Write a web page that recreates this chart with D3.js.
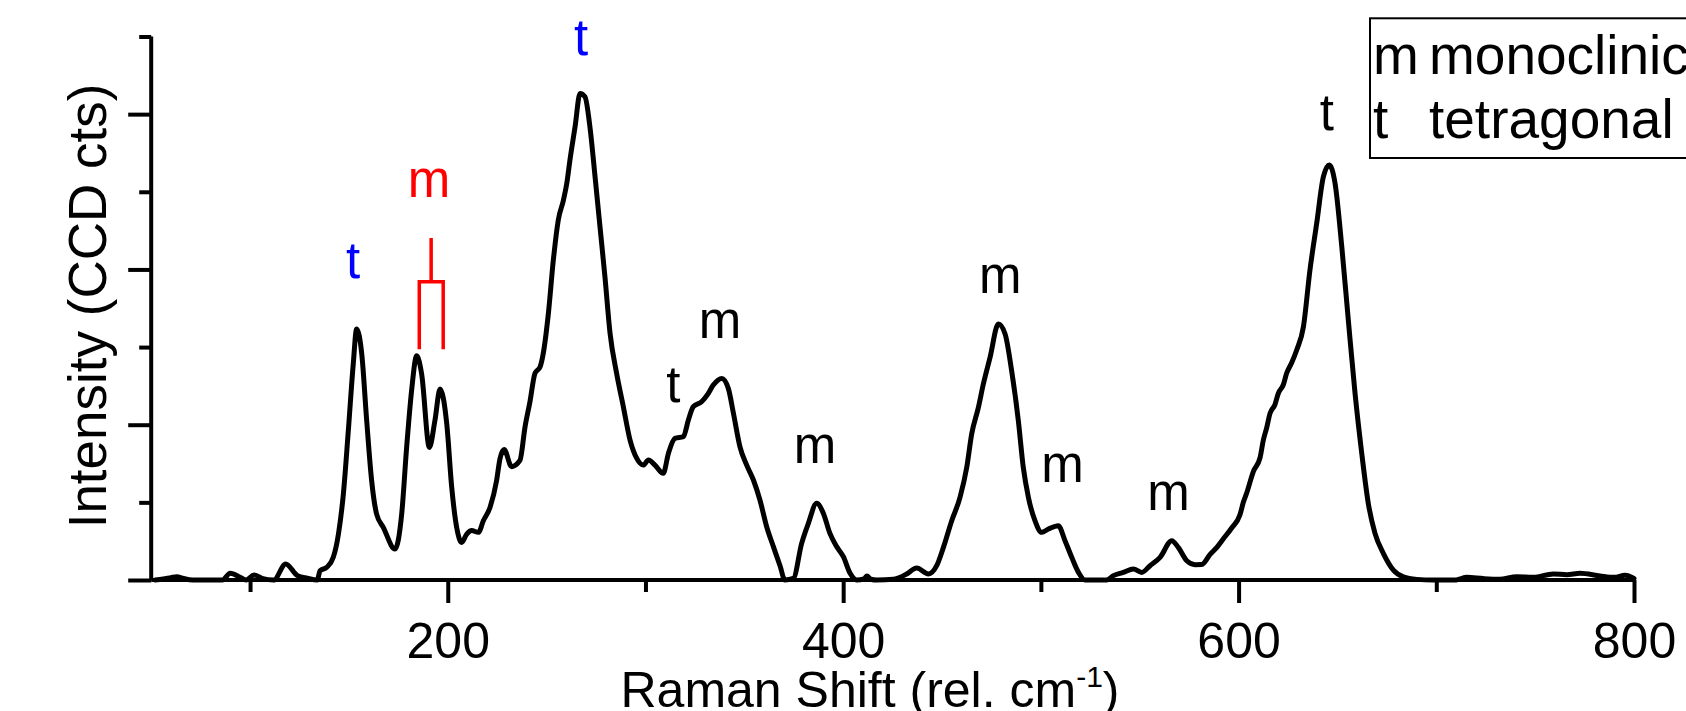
<!DOCTYPE html>
<html>
<head>
<meta charset="utf-8">
<script src="https://cdn.jsdelivr.net/npm/d3@7"></script>
<style>
    body { margin: 0; background: #fff; }
    svg { display: block; font-family: "Liberation Sans", Arial, sans-serif; }
</style>
</head>
<body>
<svg id="Target" width="1686" height="711"></svg>
<script>

// spectrum (rel. cm-1, CCD counts)
const ramanShift = [
    52, 56, 60, 63, 66, 71, 86, 90, 95, 98, 102, 106, 112, 118, 124, 129, 134,
    135.4, 138.8, 142.1, 144.7, 147.2, 149.7, 152.2, 153.9, 156.5, 159, 161.5,
    164, 167.4, 173.3, 176.7, 179.2, 181.7, 184.3, 186.8, 190.7, 193.5, 196.1,
    199.5, 202, 204.5, 207, 209.6, 212.1, 215.5, 218, 221.4, 224.7, 226.4, 228.5,
    232.3, 236.5, 239.1, 241.6, 244.1, 246.7, 248.3, 250.9, 253.4, 255.9, 258.5,
    260.2, 261.8, 264.4, 266.9, 269.4, 271.9, 274.5, 277, 279.5, 282.1, 285.4,
    288.8, 292.2, 295.6, 298.9, 301.5, 304.8, 309, 311.6, 314.9, 319.2, 321.7,
    324.2, 328.4, 331.8, 334.3, 338.6, 341.9, 344.5, 347.8, 351.2, 354.6, 357.9,
    361.3, 364.7, 368.1, 370.5, 374.8, 379, 382.4, 386.6, 390, 393.3, 396.7,
    400.1, 403.5, 406.8, 410.5, 412, 414, 417, 425.4, 428.8, 432.1, 437.2, 443.1,
    447.3, 450.7, 454.9, 459.1, 462.5, 465, 468.4, 470.9, 474.3, 478.5, 481.9,
    485.2, 488.6, 491.1, 493.7, 497, 500.4, 503.8, 508.8, 512.2, 515.6, 519,
    522.3, 533.3, 536.7, 541.7, 546.8, 551, 555.2, 560.3, 566.2, 569.5, 573.8,
    578, 581.4, 585.6, 589, 592.3, 596.5, 600.7, 602.4, 604.1, 607.5, 610.9,
    612.5, 614.2, 615.9, 618.4, 620.1, 622.7, 624.3, 626.9, 629.4, 632.8, 636.1,
    639.5, 642.9, 645.9, 648.8, 652.2, 655.5, 658.9, 662.3, 665.6, 669, 673.2,
    678.3, 683.3, 690.1, 698.5, 710, 715.4, 723.8, 732, 740.7, 749.1, 759.2,
    766, 772.7, 782.8, 790, 795.5, 800
];

const intensity = [
    0, 6, 15, 21, 11, 0, 0, 43, 17, 0, 32, 11, 0, 103, 28, 11, 0,
    60, 82, 146, 296, 554, 961, 1391, 1616, 1455, 1026, 640,
    425, 339, 199, 425, 854, 1219, 1444, 1326, 854, 1026, 1230,
    1004, 597, 339, 242, 296, 318, 307, 382, 468, 640, 780, 840,
    730, 770, 987, 1150, 1331, 1373, 1459, 1717, 2060, 2318, 2446,
    2554, 2704, 2919, 3133, 3112, 2919, 2597, 2275, 1953, 1588, 1331,
    1116, 901, 783, 740, 773, 740, 687, 815, 912, 923, 1030,
    1116, 1148, 1202, 1255, 1298, 1234, 1073, 858, 740, 644, 515,
    343, 215, 90, 0, 10, 236, 365, 494, 429, 300, 215,
    150, 43, 0, 8, 25, 5, 0, 5, 17, 39, 77, 39,
    92, 210, 382, 532, 725, 940, 1112, 1262, 1434, 1648, 1584,
    1348, 1026, 725, 532, 382, 307, 328, 350, 253, 146, 49,
    0, 0, 28, 49, 71, 49, 92, 146, 253, 210, 124,
    99, 100, 165, 210, 265, 335, 420, 500, 560, 700, 790,
    900, 980, 1073, 1130, 1202, 1260, 1331, 1400, 1481, 1631, 1996,
    2296, 2597, 2672, 2554, 2146, 1674, 1202, 815, 494, 300, 172,
    64, 21, 4, 0, 0, 17, 9, 5, 21, 17, 39,
    34, 43, 26, 17, 30, 10
];

const majorShiftTicks = [200, 400, 600, 800];
const minorShiftTicks = [100, 300, 500, 700];
const majorCountTicks = [0, 1000, 2000, 3000];
const minorCountTicks = [500, 1500, 2500, 3500];

// phase labels over the peaks
const labelText = ["t", "m", "t", "t", "m", "m", "m", "m", "m", "t"];
const labelShift = [152.1, 190.5, 267.4, 314.1, 337.7, 385.8, 479.4, 510.9, 564.5, 644.6];
const labelCounts = [1945, 2468, 3380, 1148, 1556, 751, 1846, 633, 451, 2898];
const labelColor = ["#0000ff", "#ff0000", "#0000ff", "#000", "#000", "#000", "#000", "#000", "#000", "#000"];

// red bracket joining the 185 / 197 doublet
const bracketShift = [185.6, 191.6, 197.7];
const bracketCounts = [1486, 1921, 2202];

const legendSymbol = ["m", "t"];
const legendName = ["monoclinic", "tetragonal"];

const svg = d3.select("#Target");

svg.append("rect")
    .attr("width", 1686)
    .attr("height", 711)
    .attr("fill", "#fff");

const x = d3.scaleLinear()
    .domain([50, 800])
    .range([151.2, 1634]);

const y = d3.scaleLinear()
    .domain([0, 3500])
    .range([580, 36.5]);

const styleAxis = g => {
    g.select(".domain").remove();
    g.selectAll("line")
        .attr("stroke", "#000")
        .attr("stroke-width", 4);
    g.selectAll("text")
        .attr("fill", "#000")
        .attr("font-size", 50)
        .attr("font-family", "\"Liberation Sans\", Arial, sans-serif");
};

svg.append("g")
    .attr("transform", `translate(0,${y(0)})`)
    .call(d3.axisBottom(x).tickValues(minorShiftTicks).tickSize(12).tickFormat(""))
    .call(styleAxis);

svg.append("g")
    .attr("transform", `translate(0,${y(0)})`)
    .call(d3.axisBottom(x).tickValues(majorShiftTicks).tickSize(23).tickPadding(19).tickFormat(d3.format("d")))
    .call(styleAxis);

svg.append("g")
    .attr("transform", `translate(${x(50)},0)`)
    .call(d3.axisLeft(y).tickValues(minorCountTicks).tickSize(12).tickFormat(""))
    .call(styleAxis);

svg.append("g")
    .attr("transform", `translate(${x(50)},0)`)
    .call(d3.axisLeft(y).tickValues(majorCountTicks).tickSize(23).tickFormat(""))
    .call(styleAxis);

// axis lines
svg.append("line")
    .attr("x1", x(50)).attr("x2", x(50))
    .attr("y1", y(0)).attr("y2", y(3500))
    .attr("stroke", "#000")
    .attr("stroke-width", 4);

svg.append("line")
    .attr("x1", x(50)).attr("x2", x(800))
    .attr("y1", y(0)).attr("y2", y(0))
    .attr("stroke", "#000")
    .attr("stroke-width", 4);

const spectrum = ramanShift.map((s, i) => [s, intensity[i]]);

const lineGenerator = d3.line()
    .x(d => x(d[0]))
    .y(d => y(d[1]))
    .curve(d3.curveMonotoneX);

svg.append("path")
    .datum(spectrum)
    .attr("d", lineGenerator)
    .attr("fill", "none")
    .attr("stroke", "#000")
    .attr("stroke-width", 5)
    .attr("stroke-linejoin", "round")
    .attr("stroke-linecap", "round");

svg.append("path")
    .attr("d", `M${x(bracketShift[0])},${y(bracketCounts[0])}` +
        `V${y(bracketCounts[1])}H${x(bracketShift[2])}V${y(bracketCounts[0])}` +
        `M${x(bracketShift[1])},${y(bracketCounts[1])}V${y(bracketCounts[2])}`)
    .attr("fill", "none")
    .attr("stroke", "#ff0000")
    .attr("stroke-width", 3.5);

svg.selectAll("text.peak")
    .data(labelText)
    .enter()
    .append("text")
    .attr("class", "peak")
    .attr("x", (d, i) => x(labelShift[i]))
    .attr("y", (d, i) => y(labelCounts[i]))
    .attr("text-anchor", "middle")
    .attr("font-size", 51)
    .attr("fill", (d, i) => labelColor[i])
    .text(d => d);

// legend box, running off the right edge
const legend = svg.append("g");

legend.append("rect")
    .attr("x", 1370)
    .attr("y", 18.3)
    .attr("width", 340)
    .attr("height", 139.7)
    .attr("fill", "#fff")
    .attr("stroke", "#000")
    .attr("stroke-width", 2);

legendSymbol.forEach((s, i) => {
    legend.append("text")
        .attr("x", 1373)
        .attr("y", 74 + i * 64)
        .attr("font-size", 55)
        .text(s);
    legend.append("text")
        .attr("x", 1429)
        .attr("y", 74 + i * 64)
        .attr("font-size", 55)
        .text(legendName[i]);
});

svg.append("text")
    .attr("transform", "translate(106,306) rotate(-90)")
    .attr("text-anchor", "middle")
    .attr("font-size", 53)
    .text("Intensity (CCD cts)");

const xTitle = svg.append("text")
    .attr("x", 870)
    .attr("y", 707)
    .attr("text-anchor", "middle")
    .attr("font-size", 50);

xTitle.append("tspan").text("Raman Shift (rel. cm");
xTitle.append("tspan").attr("font-size", 30).attr("dy", -20).text("-1");
xTitle.append("tspan").attr("dy", 20).text(")");

</script>
</body>
</html>
